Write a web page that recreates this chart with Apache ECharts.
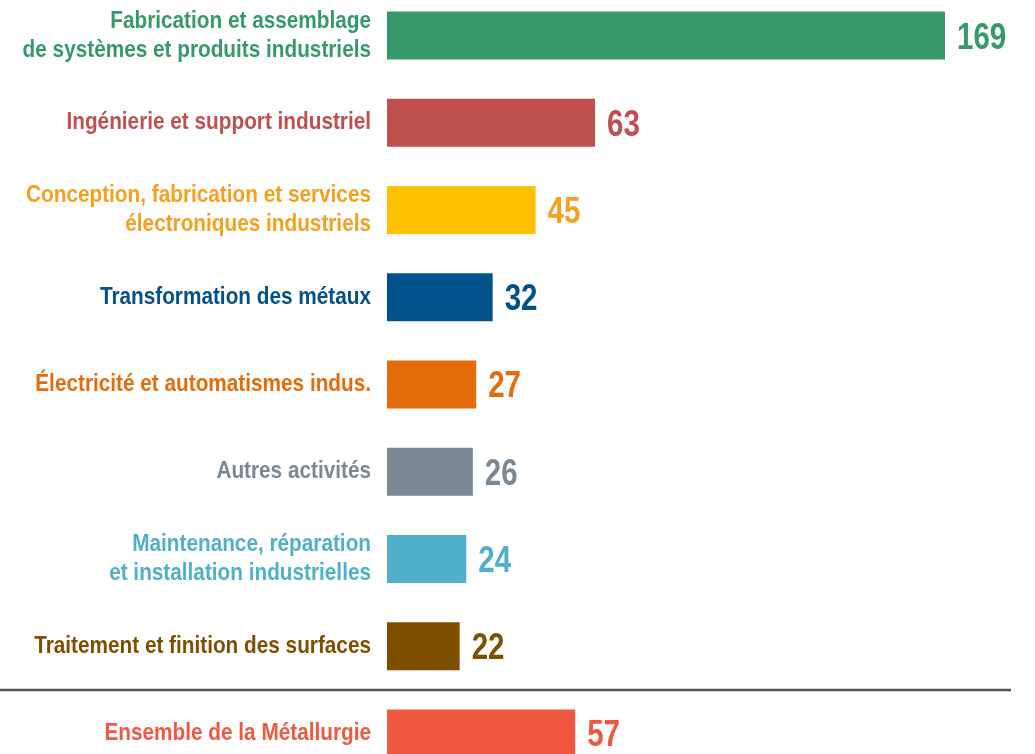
<!DOCTYPE html>
<html lang="fr">
<head>
    <meta charset="UTF-8">
    <title>Métallurgie</title>
    <script type="text/javascript" src="https://cdn.jsdelivr.net/npm/echarts@6/dist/echarts.min.js"></script>
    <style>
        html, body { margin: 0; padding: 0; background: #fff; }
        #main { width: 1035px; height: 754px; }
    </style>
</head>
<body>
<div id="main"></div>
<script type="text/javascript">
    // données
    var categories = [
        'Fabrication et assemblage\nde systèmes et produits industriels',
        'Ingénierie et support industriel',
        'Conception, fabrication et services\nélectroniques industriels',
        'Transformation des métaux',
        'Électricité et automatismes indus.',
        'Autres activités',
        'Maintenance, réparation\net installation industrielles',
        'Traitement et finition des surfaces',
        'Ensemble de la Métallurgie'
    ];
    var values = [169, 63, 45, 32, 27, 26, 24, 22, 57];

    // couleurs
    var barColors = ['#35996A', '#C0504D', '#FFC000', '#01518A', '#E46C0A', '#7B8892', '#50AFC9', '#7F4F00', '#F0583F'];
    var textColors = ['#35996A', '#C0504D', '#F5A01E', '#01518A', '#E46C0A', '#7B8892', '#50AFC9', '#7F4F00', '#F0583F'];

    // pas de police "narrow" installée : on compresse horizontalement
    var font = '"Liberation Sans", Arial, sans-serif';

    var myChart = echarts.init(document.getElementById('main'));

    var barData = [];
    for (var i = 0; i < categories.length; i++) {
        barData.push({value: values[i], itemStyle: {color: barColors[i]}});
    }

    var option = {
        animation: false,
        grid: {left: 387, width: 558, top: -8, height: 785, outerBoundsMode: 'none', containLabel: false},
        xAxis: {type: 'value', min: 0, max: 169, show: false},
        yAxis: {
            type: 'category',
            inverse: true,
            data: categories,
            axisLine: {show: false},
            axisTick: {show: false},
            axisLabel: {show: false}
        },
        series: [{
            type: 'bar',
            data: barData,
            barWidth: 48
        }]
    };
    myChart.setOption(option);

    // libellés et valeurs placés via les échelles du graphique
    var graphics = [];
    var x0 = myChart.convertToPixel({xAxisIndex: 0}, 0);
    for (var j = 0; j < categories.length; j++) {
        var yc = myChart.convertToPixel({yAxisIndex: 0}, j);
        var xv = myChart.convertToPixel({xAxisIndex: 0}, values[j]);
        graphics.push({
            type: 'text',
            x: x0 - 16, y: yc,
            scaleX: 0.865,
            style: {
                text: categories[j],
                align: 'right', verticalAlign: 'middle',
                fontFamily: font, fontWeight: 'bold', fontSize: 24, lineHeight: 29,
                fill: textColors[j]
            }
        });
        graphics.push({
            type: 'text',
            x: xv + 12, y: yc + 3,
            scaleX: 0.82,
            style: {
                text: String(values[j]),
                align: 'left', verticalAlign: 'middle',
                fontFamily: font, fontWeight: 'bold', fontSize: 36,
                fill: textColors[j]
            }
        });
    }

    // trait de séparation avant "Ensemble"
    var y7 = myChart.convertToPixel({yAxisIndex: 0}, 7);
    var y8 = myChart.convertToPixel({yAxisIndex: 0}, 8);
    var ySep = Math.round((y7 + y8) / 2);
    graphics.push({
        type: 'line',
        shape: {x1: 0, y1: ySep, x2: 1011, y2: ySep},
        style: {stroke: '#555555', lineWidth: 2.5}
    });
    myChart.setOption({graphic: graphics});
</script>
</body>
</html>
